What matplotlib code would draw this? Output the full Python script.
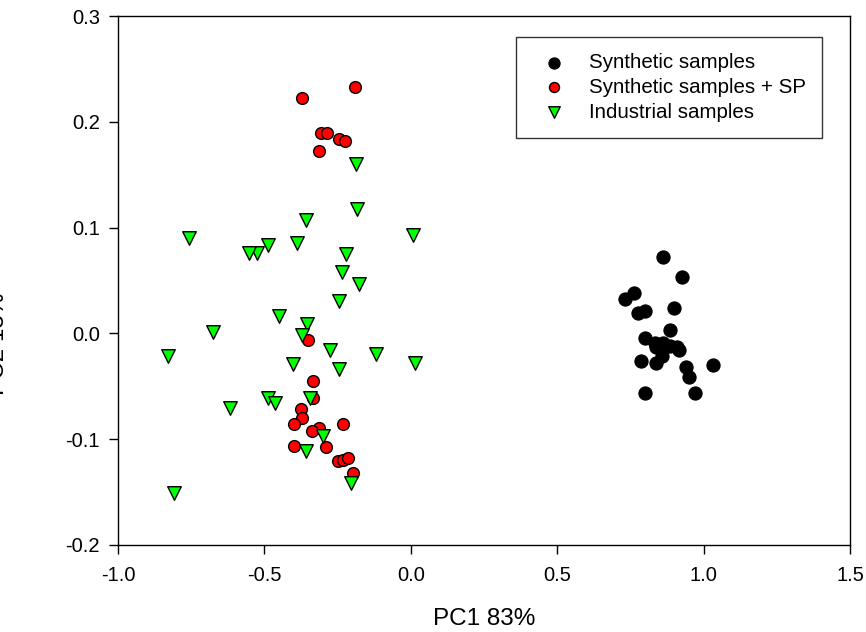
import matplotlib
matplotlib.use("Agg")
import matplotlib.pyplot as plt

plt.rcParams['font.family'] = ['Liberation Sans', 'DejaVu Sans']

# Synthetic samples (black)
syn_x = [0.862, 0.925, 0.763, 0.732, 0.800, 0.775, 0.899, 0.886, 0.800, 0.834,
         0.837, 0.862, 0.885, 0.916, 0.908, 0.857, 0.837, 0.785, 0.940, 0.950,
         1.031, 0.800, 0.970]
syn_y = [0.0725, 0.0536, 0.0379, 0.0325, 0.0215, 0.019, 0.0237, 0.0032, -0.0046, -0.0088,
         -0.0126, -0.0094, -0.0119, -0.0157, -0.0132, -0.0214, -0.0283, -0.0261, -0.0314, -0.0409,
         -0.0299, -0.056, -0.056]

# Synthetic samples + SP (red)
sp_x = [-0.191, -0.373, -0.307, -0.287, -0.245, -0.225, -0.314,
        -0.350, -0.333, -0.335, -0.375, -0.371, -0.398, -0.231, -0.314, -0.336,
        -0.398, -0.291, -0.250, -0.231, -0.213, -0.199]
sp_y = [0.2332, 0.2222, 0.1894, 0.1894, 0.1835, 0.1816, 0.1724,
        -0.0062, -0.0447, -0.0608, -0.0717, -0.0797, -0.0859, -0.0859, -0.0897, -0.092,
        -0.1061, -0.1071, -0.1209, -0.1197, -0.118, -0.1316]

# Industrial samples (green)
ind_x = [-0.187, -0.183, -0.359, -0.759, 0.009, -0.390, -0.489, -0.526, -0.553, -0.221,
         -0.234, -0.176, -0.246, -0.451, -0.354, -0.677, -0.373, -0.276, -0.828, -0.119,
         -0.401, -0.244, 0.014, -0.489, -0.464, -0.344, -0.618, -0.301, -0.359, -0.204,
         -0.808]
ind_y = [0.1598, 0.1173, 0.1072, 0.0899, 0.0927, 0.0857, 0.0836, 0.0763, 0.0757, 0.0747,
         0.0583, 0.0467, 0.0309, 0.0164, 0.0089, 0.0013, -0.0015, -0.0157, -0.0214, -0.0198,
         -0.0289, -0.034, -0.0283, -0.0614, -0.0661, -0.0608, -0.0708, -0.097, -0.1111, -0.1411,
         -0.1511]

x_ticks = [-1.0, -0.5, 0.0, 0.5, 1.0, 1.5]
y_ticks = [-0.2, -0.1, 0.0, 0.1, 0.2, 0.3]

fig = plt.figure(figsize=(8.66, 6.32), dpi=100)
ax = fig.add_axes([118/866, 1-545/632, (850-118)/866, (545-16)/632])

ax.scatter(syn_x, syn_y, s=90, c='black', edgecolors='black', linewidths=0.8,
           label='Synthetic samples', zorder=3)
ax.scatter(sp_x, sp_y, s=72, c='#ff0000', edgecolors='black', linewidths=1.0,
           label='Synthetic samples + SP', zorder=3)
ax.scatter(ind_x, ind_y, s=95, marker='v', c='#00ff00', edgecolors='black', linewidths=1.0,
           label='Industrial samples', zorder=3)

ax.set_xlim(-1.0, 1.5)
ax.set_ylim(-0.2, 0.3)
ax.set_xticks(x_ticks)
ax.set_xticklabels([f"{v:.1f}" for v in x_ticks])
ax.set_yticks(y_ticks)
ax.set_yticklabels([f"{v:.1f}" for v in y_ticks])
ax.tick_params(axis='both', direction='out', length=6.5, width=1.0, labelsize=14.5, color='black')
ax.tick_params(axis='x', pad=8.5)
ax.tick_params(axis='y', pad=6.5)
for sp in ax.spines.values():
    sp.set_linewidth(1.0)
    sp.set_color('black')

ax.set_xlabel('PC1 83%', fontsize=17.5, labelpad=17)
ax.set_ylabel('PC2 13%', fontsize=17.5)
ax.yaxis.set_label_coords(-0.149, 0.38)

leg = ax.legend(loc='upper right', bbox_to_anchor=((822-118)/732, (545-37)/529),
                borderaxespad=0, fontsize=14.8, frameon=True, fancybox=False,
                edgecolor='black', borderpad=0.78, labelspacing=0.28,
                handlelength=2.1, handletextpad=0.65, markerscale=0.85)
leg.get_frame().set_linewidth(1.0)

fig.savefig('out.png', dpi=100)
